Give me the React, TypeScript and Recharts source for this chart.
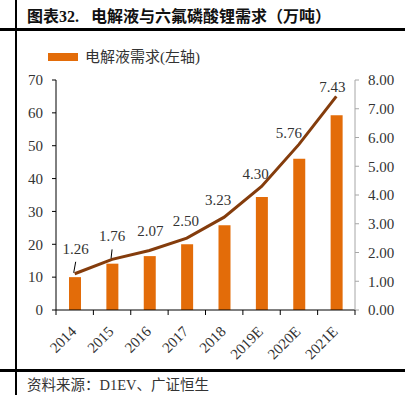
import React from 'react'
import { Bar, ComposedChart, LabelList, Line, XAxis, YAxis } from 'recharts'

const categories = ['2014', '2015', '2016', '2017', '2018', '2019E', '2020E', '2021E']
const electrolyteDemand = [10.0, 14.1, 16.4, 20.0, 25.8, 34.4, 46.0, 59.3]
const lipf6Demand = [1.26, 1.76, 2.07, 2.5, 3.23, 4.3, 5.76, 7.43]
const leftTicks = [0, 10, 20, 30, 40, 50, 60, 70]
const rightTicks = [0, 1, 2, 3, 4, 5, 6, 7, 8]

const data = categories.map((year, i) => ({
  year,
  electrolyte: electrolyteDemand[i],
  lipf6: lipf6Demand[i]
}))

const serif = "'Liberation Serif', 'Noto Sans CJK SC', serif"
const PLOT_W = 299
const bandW = PLOT_W / categories.length

// label shifts [dx, dy] relative to the line point, text centre
const labelShift = [
  [1, -25], [0, -23], [1, -19], [-1, -17], [-6, -17], [-6, -12], [-10, -11], [-4, -9]
]

function LineLabel (props: any) {
  const { x, y, value, index } = props
  const [dx, dy] = labelShift[index] || [0, -15]
  return (
    <g>
      {index === 0 && <line x1={x + 1} y1={y - 12} x2={x - 1} y2={y - 1} stroke="#000" strokeWidth={1} />}
      {index === 1 && <line x1={x} y1={y - 10} x2={x - 1} y2={y - 1} stroke="#000" strokeWidth={1} />}
      <text x={x + dx} y={y + dy} textAnchor="middle" dominantBaseline="central"
        fontFamily={serif} fontSize={15} fill="#333">
        {Number(value).toFixed(2)}
      </text>
    </g>
  )
}

function XTick (props: any) {
  const { x, y, payload, index } = props
  const last = index === categories.length - 1
  return (
    <g>
      <line x1={x - bandW / 2} y1={y} x2={x - bandW / 2} y2={y + 5} stroke="#000" />
      {last && <line x1={x + bandW / 2} y1={y} x2={x + bandW / 2} y2={y + 5} stroke="#000" />}
      <text x={x - 1} y={y + 19} textAnchor="end" dominantBaseline="central"
        transform={`rotate(-45, ${x - 1}, ${y + 19})`}
        fontFamily={serif} fontSize={15} fill="#333">
        {payload.value}
      </text>
    </g>
  )
}

export default function App () {
  return (
    <div style={{ position: 'absolute', left: 0, top: 0, width: 413, height: 395, background: '#fff', overflow: 'hidden' }}>
      <div style={{ position: 'absolute', left: 27, top: 3, fontFamily: serif, fontWeight: 'bold', fontSize: 16, color: '#111', whiteSpace: 'nowrap' }}>
        图表32.&nbsp;&nbsp;&nbsp;电解液与六氟磷酸锂需求（万吨）
      </div>
      <div style={{ position: 'absolute', left: 15, top: 0, width: 2, height: 395, background: '#000' }} />
      <div style={{ position: 'absolute', left: 0, top: 28, width: 405, height: 3, background: '#000' }} />
      <div style={{ position: 'absolute', left: 0, top: 369, width: 405, height: 2.5, background: '#000' }} />
      <div style={{ position: 'absolute', left: 48, top: 53, width: 30, height: 8, background: '#E36C09' }} />
      <div style={{ position: 'absolute', left: 85, top: 47, fontFamily: serif, fontSize: 15, color: '#333', whiteSpace: 'nowrap', lineHeight: '20px' }}>
        电解液需求(左轴)
      </div>
      <div style={{ position: 'absolute', left: 27, top: 376, fontFamily: serif, fontSize: 14.5, color: '#333', whiteSpace: 'nowrap', lineHeight: '18px' }}>
        资料来源：D1EV、广证恒生
      </div>
      <div style={{ position: 'absolute', left: 0, top: 0 }}>
        <ComposedChart width={413} height={395} data={data}
          margin={{ top: 80, right: 8, bottom: 25, left: 0 }}>
          <XAxis dataKey="year" height={60} axisLine={{ stroke: '#000' }} tickLine={false}
            tickSize={0} tickMargin={0} tick={<XTick />} interval={0} />
          <YAxis yAxisId="left" orientation="left" width={56} domain={[0, 70]} ticks={leftTicks}
            axisLine={{ stroke: '#000' }} tickLine={{ stroke: '#000' }} tickSize={4} tickMargin={9}
            tick={{ fontFamily: serif, fontSize: 15, fill: '#333' }} interval={0} />
          <YAxis yAxisId="right" orientation="right" width={50} domain={[0, 8]} ticks={rightTicks}
            axisLine={{ stroke: '#a6a6a6' }} tickLine={{ stroke: '#a6a6a6' }} tickSize={4} tickMargin={9}
            tickFormatter={(v: number) => v.toFixed(2)}
            tick={{ fontFamily: serif, fontSize: 15, fill: '#333' }} interval={0} />
          <Bar yAxisId="left" dataKey="electrolyte" fill="#E36C09" barSize={12} isAnimationActive={false} />
          <Line yAxisId="right" dataKey="lipf6" type="linear" stroke="#843C0C" strokeWidth={3}
            dot={false} activeDot={false} isAnimationActive={false}>
            <LabelList dataKey="lipf6" content={<LineLabel />} />
          </Line>
        </ComposedChart>
      </div>
    </div>
  )
}
